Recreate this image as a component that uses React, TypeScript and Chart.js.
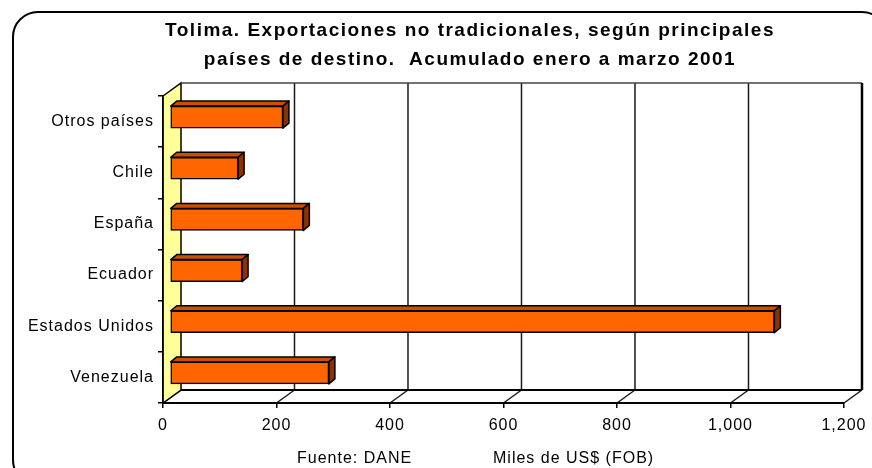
import React, { useEffect, useRef } from 'react';
import { Chart, registerables } from 'chart.js';

Chart.register(...registerables);

// ---- data ----
const categories = ['Otros países', 'Chile', 'España', 'Ecuador', 'Estados Unidos', 'Venezuela'];
const values = [199, 120, 235, 127, 1065, 280];
const xTicks = [0, 200, 400, 600, 800, 1000, 1200];
const titleLines = [
  'Tolima. Exportaciones no tradicionales, según principales',
  'países de destino.  Acumulado enero a marzo 2001',
];
const footerSource = 'Fuente: DANE';
const footerUnits = 'Miles de US$ (FOB)';

// ---- styling / geometry ----
const FONT = '"Liberation Sans", Arial, Helvetica, sans-serif';
const DEPTH_X = 18;
const DEPTH_Y = -13;
const BAR_SHIFT_X = 7;
const BAR_SHIFT_Y = -4.5;
const BAR_DX = 6;
const BAR_DY = -5;

function poly(ctx: CanvasRenderingContext2D, pts: number[][]) {
  ctx.beginPath();
  ctx.moveTo(pts[0][0], pts[0][1]);
  for (let i = 1; i < pts.length; i++) ctx.lineTo(pts[i][0], pts[i][1]);
  ctx.closePath();
}

const threeD = {
  id: 'threeD',
  beforeDraw(chart: any) {
    const { ctx, chartArea: a, scales } = chart;
    const xs = scales.x;
    ctx.save();
    ctx.fillStyle = '#ffffff';
    ctx.fillRect(0, 0, chart.width, chart.height);
    // outer rounded frame
    ctx.beginPath();
    (ctx as any).roundRect(13, 12, 874, 473, 25);
    ctx.lineWidth = 2;
    ctx.strokeStyle = '#000';
    ctx.stroke();

    const bl = a.left + DEPTH_X;
    const br = a.right + DEPTH_X;
    const bt = a.top + DEPTH_Y;
    const bb = a.bottom + DEPTH_Y;

    // back wall gridlines + floor diagonals
    ctx.strokeStyle = '#1a1a1a';
    ctx.lineWidth = 1.5;
    xTicks.forEach((v, i) => {
      const px = xs.getPixelForValue(v);
      ctx.beginPath();
      ctx.moveTo(px, a.bottom);
      ctx.lineTo(px + DEPTH_X, bb);
      ctx.stroke();
      if (i > 0 && i < xTicks.length - 1) {
        ctx.beginPath();
        ctx.moveTo(px + DEPTH_X, bt);
        ctx.lineTo(px + DEPTH_X, bb);
        ctx.stroke();
      }
    });

    // left wall
    poly(ctx, [
      [a.left, a.top],
      [bl, bt],
      [bl, bb],
      [a.left, a.bottom],
    ]);
    ctx.fillStyle = '#FFFF99';
    ctx.fill();
    ctx.lineWidth = 1.5;
    ctx.strokeStyle = '#000';
    ctx.stroke();

    // back wall top edge
    ctx.strokeStyle = '#444';
    ctx.lineWidth = 1.5;
    ctx.beginPath();
    ctx.moveTo(bl, bt);
    ctx.lineTo(br, bt);
    ctx.stroke();
    // back wall bottom edge
    ctx.strokeStyle = '#000';
    ctx.lineWidth = 2;
    ctx.beginPath();
    ctx.moveTo(bl, bb);
    ctx.lineTo(br, bb);
    ctx.stroke();
    // right edge
    ctx.lineWidth = 2.5;
    ctx.beginPath();
    ctx.moveTo(br, bt);
    ctx.lineTo(br, bb);
    ctx.stroke();
    ctx.restore();
    // wider letter spacing for the axis labels (as in the reference)
    (ctx as any).letterSpacing = '1px';
  },
  beforeDatasetsDraw(chart: any) {
    chart.ctx.save();
    chart.ctx.translate(BAR_SHIFT_X, BAR_SHIFT_Y);
  },
  afterDatasetsDraw(chart: any) {
    const ctx = chart.ctx;
    const meta = chart.getDatasetMeta(0);
    ctx.lineWidth = 1.5;
    ctx.strokeStyle = '#000';
    ctx.lineJoin = 'round';
    meta.data.forEach((bar: any) => {
      const { x, y, base, height } = bar.getProps(['x', 'y', 'base', 'height'], true);
      const top = y - height / 2;
      const bot = y + height / 2;
      poly(ctx, [
        [base, top],
        [base + BAR_DX, top + BAR_DY],
        [x + BAR_DX, top + BAR_DY],
        [x, top],
      ]);
      ctx.fillStyle = '#C85000';
      ctx.fill();
      ctx.stroke();
      poly(ctx, [
        [x, top],
        [x + BAR_DX, top + BAR_DY],
        [x + BAR_DX, bot + BAR_DY],
        [x, bot],
      ]);
      ctx.fillStyle = '#8A3300';
      ctx.fill();
      ctx.stroke();
    });
    ctx.restore();
  },
  afterDraw(chart: any) {
    const ctx = chart.ctx;
    ctx.save();
    ctx.fillStyle = '#000';
    ctx.textAlign = 'center';
    ctx.textBaseline = 'middle';
    (ctx as any).letterSpacing = '1.5px';
    ctx.font = `bold 19px ${FONT}`;
    ctx.fillText(titleLines[0], 470, 31);
    ctx.fillText(titleLines[1], 470, 60);
    (ctx as any).letterSpacing = '1px';
    ctx.font = `16px ${FONT}`;
    ctx.textAlign = 'left';
    ctx.fillText(footerSource, 297, 459);
    ctx.fillText(footerUnits, 493, 459);
    ctx.restore();
    (ctx as any).letterSpacing = '0px';
  },
};

export default function App() {
  const ref = useRef<HTMLCanvasElement>(null);
  useEffect(() => {
    if (!ref.current) return;
    const chart = new Chart(ref.current, {
      type: 'bar',
      data: {
        labels: categories,
        datasets: [
          {
            data: values,
            backgroundColor: '#FF6600',
            borderColor: '#000',
            borderWidth: 1.5,
            borderSkipped: false,
            barThickness: 22,
          },
        ],
      },
      options: {
        indexAxis: 'y',
        responsive: false,
        animation: false,
        events: [],
        layout: { padding: { left: 0, right: 25, top: 96, bottom: 35 } },
        plugins: {
          legend: { display: false },
          title: { display: false },
          tooltip: { enabled: false },
        },
        scales: {
          x: {
            type: 'linear',
            min: 0,
            max: 1200,
            position: 'bottom',
            afterBuildTicks: (s: any) => {
              s.ticks = xTicks.map((v) => ({ value: v }));
            },
            afterFit: (s: any) => {
              s.height = 30;
            },
            grid: { drawOnChartArea: false, drawTicks: true, tickLength: 5, color: '#000', lineWidth: 1.5 },
            border: { display: true, color: '#000', width: 2 },
            ticks: {
              font: { family: FONT, size: 16 },
              color: '#000',
              padding: 8,
              maxRotation: 0,
              autoSkip: false,
              callback: (v: any) => Number(v).toLocaleString('en-US'),
            },
          },
          y: {
            type: 'category',
            position: 'left',
            afterFit: (s: any) => {
              s.width = 163;
            },
            grid: { offset: true, drawOnChartArea: false, drawTicks: true, tickLength: 5, color: '#000', lineWidth: 1.5 },
            border: { display: true, color: '#000', width: 1.5 },
            ticks: { font: { family: FONT, size: 16 }, color: '#000', padding: 4 },
          },
        },
      },
      plugins: [threeD],
    });
    return () => chart.destroy();
  }, []);
  return (
    <div style={{ position: 'fixed', left: 0, top: 0, width: 872, height: 468 }}>
      <canvas ref={ref} width={872} height={468} />
    </div>
  );
}
